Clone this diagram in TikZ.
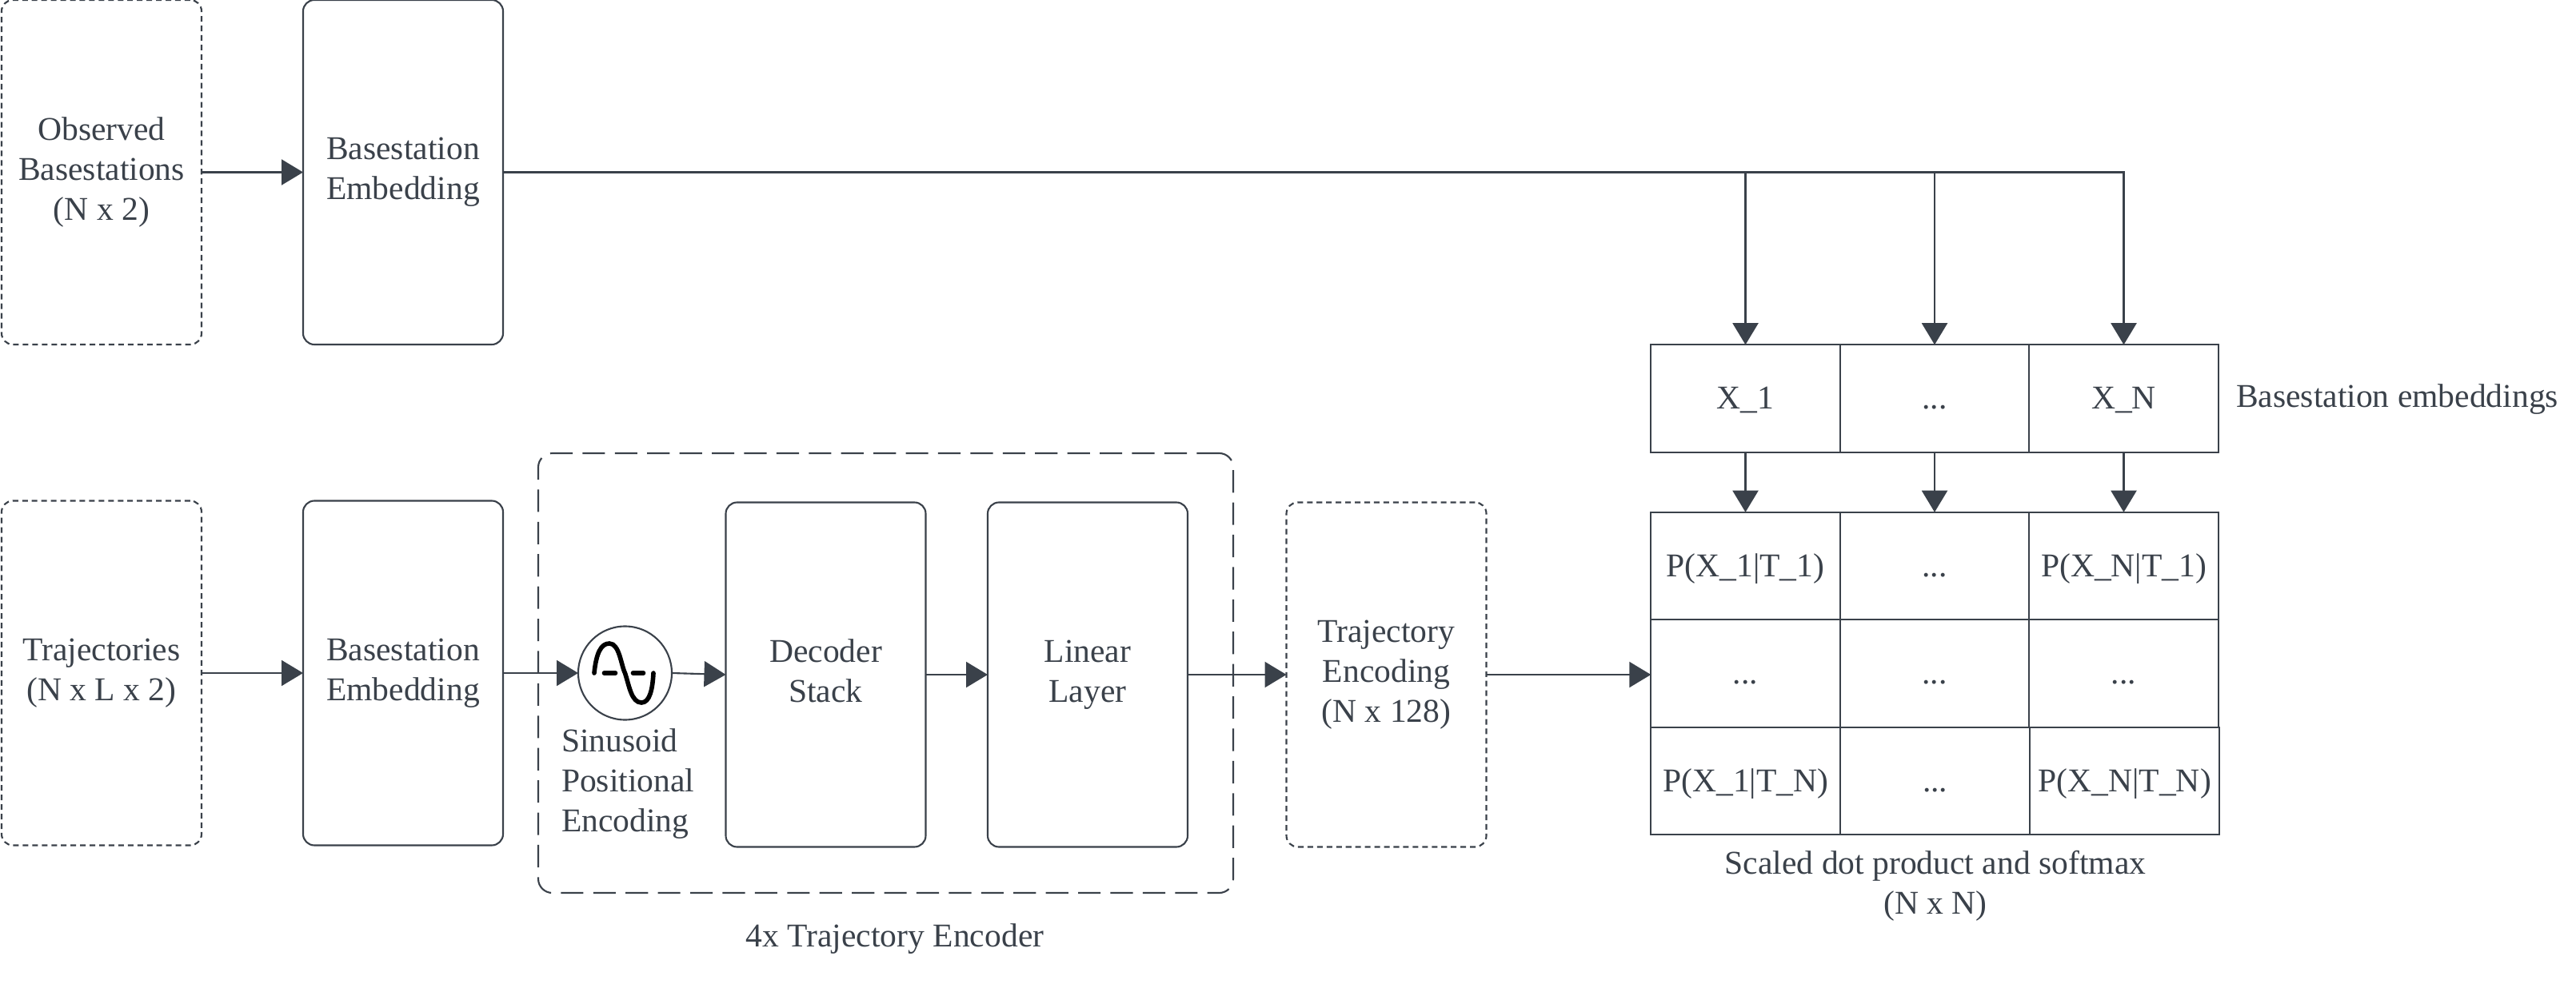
\documentclass[tikz,border=0pt]{standalone}
\usepackage{fontspec}
\setmainfont{Liberation Serif}
\usepackage{xcolor}
\usepackage{tikz}
\usetikzlibrary{arrows.meta,positioning,calc}
\definecolor{inkgray}{RGB}{58,65,74}

\begin{document}
\begin{tikzpicture}[
  every node/.style={font=\fontsize{11.83}{14.2}\selectfont, text=inkgray, outer sep=0pt, inner sep=0pt},
  block/.style={draw=inkgray, line width=0.6pt, rounded corners=4pt,
                minimum width=2.5cm, minimum height=4.31cm, align=center},
  dotbox/.style={block, dash pattern=on 2pt off 1.4pt},
  cell/.style={draw=inkgray, line width=0.6pt, minimum width=2.365cm,
               minimum height=1.345cm, align=center, text height=10.4pt, text depth=3pt},
  widecell/.style={cell, minimum width=2.37cm},
  label/.style={align=center},
  arrow/.style={-{Triangle[length=0.27cm, width=0.32cm]}, draw=inkgray, line width=0.6pt},
]
\useasboundingbox (0,0) rectangle (32.21,-12.36);

%% Top row
\node[dotbox] (obs) at (1.27, -2.155) {Observed\\Basestations\\(N x 2)};
\node[block] (embtop) at (5.04, -2.155) {Basestation\\Embedding};
\draw[arrow] (obs.east) -- (embtop.west);

%% Bottom row
\node[dotbox] (traj) at (1.27, -8.42) {Trajectories\\(N x L x 2)};
\node[block] (embbot) at (5.04, -8.42) {Basestation\\Embedding};
\draw[arrow] (traj.east) -- (embbot.west);

%% Trajectory encoder group
\node[draw=inkgray, line width=0.6pt, rounded corners=5pt, dash pattern=on 8pt off 3.5pt,
      minimum width=8.69cm, minimum height=5.5cm] (group) at (11.075, -8.42) {};
\node[label, anchor=north] (grouplabel) at (11.19, -11.56) {4x Trajectory Encoder};

\node[draw=inkgray, line width=0.6pt, circle, minimum size=1.17cm] (sine) at (7.815, -8.42) {};
\begin{scope}[shift={(sine.center)}, black, line width=1.6pt, line cap=round]
  \draw (-0.385,0) .. controls (-0.36,0.25) and (-0.3,0.37) .. (-0.195,0.37)
    .. controls (-0.07,0.37) and (-0.05,0.1) .. (0,0)
    .. controls (0.05,-0.15) and (0.08,-0.37) .. (0.205,-0.37)
    .. controls (0.31,-0.37) and (0.345,-0.2) .. (0.355,0);
  \draw (-0.26,0) -- (-0.12,0);
  \draw (0.1,0) -- (0.23,0);
\end{scope}
\node[anchor=north west, align=left] (sinelabel) at (7.02, -9.12) {Sinusoid\\Positional\\Encoding};

\node[block, text depth=2.6pt] (dec) at (10.325, -8.44) {Decoder\\Stack};
\node[block, text depth=2.6pt] (lin) at (13.6, -8.44) {Linear\\Layer};
\node[dotbox] (enc) at (17.335, -8.44) {Trajectory\\Encoding\\(N x 128)};

\draw[arrow] (embbot.east) -- (sine.west);
\draw[arrow] (sine.east) -- (dec.west);
\draw[arrow] (dec.east) -- (lin.west);
\draw[arrow] (lin.east) -- (enc.west);

%% Basestation embeddings
\node[cell] (x1) at (21.825, -4.985) {X\_1};
\node[cell, right=0cm of x1] (xd) {...};
\node[cell, right=0cm of xd] (xn) {X\_N};
\node[label, anchor=west] (xlabel) at (27.96, -5.0) {Basestation embeddings};

\foreach \c in {x1, xd, xn} {
  \draw[arrow] (embtop.east) -| (\c.north);
}

%% Output matrix
\node[cell] (p11) at (21.825, -7.08) {P(X\_1|T\_1)};
\node[cell, right=0cm of p11] (pd1) {...};
\node[cell, right=0cm of pd1] (pn1) {P(X\_N|T\_1)};
\node[cell, below=0cm of p11] (p1d) {...};
\node[cell, right=0cm of p1d] (pdd) {...};
\node[cell, right=0cm of pdd] (pnd) {...};
\node[widecell, anchor=north west] (p1n) at (p1d.south west) {P(X\_1|T\_N)};
\node[widecell, right=0cm of p1n] (pdn) {...};
\node[widecell, right=0cm of pdn] (pnn) {P(X\_N|T\_N)};
\node[label, anchor=north] (plabel) at (24.2, -10.64) {Scaled dot product and softmax\\(N x N)};

\foreach \a/\b in {x1/p11, xd/pd1, xn/pn1} {
  \draw[arrow] (\a.south) -- (\b.north);
}
\draw[arrow] (enc.east) -- (enc.east -| p1d.west);

\end{tikzpicture}
\end{document}
